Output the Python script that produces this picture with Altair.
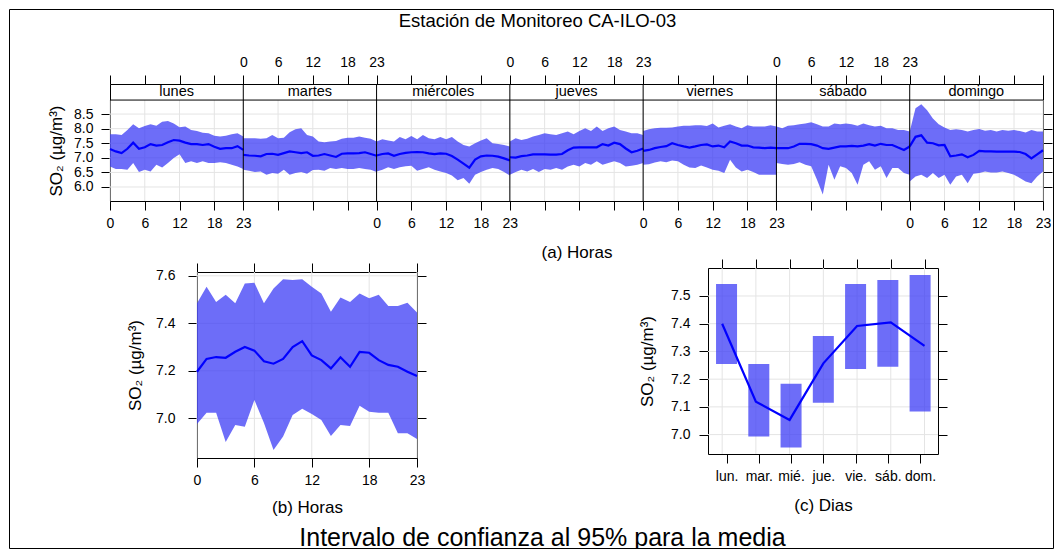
import json
import altair as alt
import pandas as pd

# ---------------- data ----------------
days = ["lunes", "martes", "miércoles", "jueves", "viernes", "sábado", "domingo"]

mean_lunes = [7.30, 7.22, 7.16, 7.31, 7.52, 7.31, 7.36, 7.47, 7.42, 7.44, 7.53, 7.61, 7.59, 7.52, 7.47, 7.47, 7.44, 7.47, 7.38, 7.31, 7.33, 7.33, 7.40, 7.27]
lower_lunes = [6.70, 6.62, 6.62, 6.59, 6.82, 6.51, 6.59, 6.53, 6.76, 6.67, 6.82, 6.99, 7.12, 6.82, 6.88, 6.82, 6.88, 6.82, 6.82, 6.85, 6.82, 6.76, 6.70, 6.62]
upper_lunes = [7.81, 7.81, 7.78, 7.95, 8.15, 8.01, 8.09, 8.15, 8.10, 8.24, 8.26, 8.18, 8.05, 8.07, 7.95, 7.92, 7.86, 7.84, 7.76, 7.73, 7.76, 7.81, 7.84, 7.73]

mean_martes = [7.10, 7.08, 7.07, 7.05, 7.13, 7.14, 7.10, 7.16, 7.22, 7.19, 7.16, 7.19, 7.07, 7.08, 7.13, 7.08, 7.03, 7.14, 7.15, 7.15, 7.16, 7.19, 7.13, 7.07]
lower_martes = [6.59, 6.56, 6.51, 6.53, 6.42, 6.48, 6.45, 6.59, 6.42, 6.48, 6.51, 6.45, 6.58, 6.59, 6.56, 6.65, 6.62, 6.65, 6.62, 6.62, 6.65, 6.62, 6.59, 6.51]
upper_martes = [7.67, 7.67, 7.67, 7.65, 7.67, 7.78, 7.67, 7.69, 7.88, 7.98, 8.01, 7.78, 7.73, 7.56, 7.53, 7.56, 7.58, 7.65, 7.69, 7.69, 7.73, 7.69, 7.65, 7.56]

mean_miercoles = [7.08, 7.13, 7.15, 7.07, 7.13, 7.17, 7.19, 7.20, 7.19, 7.15, 7.13, 7.15, 7.14, 7.06, 6.94, 6.80, 6.66, 6.94, 7.05, 7.08, 7.07, 7.04, 6.98, 6.91]
lower_miercoles = [6.53, 6.59, 6.68, 6.62, 6.68, 6.71, 6.73, 6.56, 6.62, 6.68, 6.59, 6.53, 6.48, 6.39, 6.23, 6.31, 6.11, 6.42, 6.51, 6.59, 6.65, 6.62, 6.51, 6.39]
upper_miercoles = [7.56, 7.64, 7.59, 7.56, 7.71, 7.64, 7.75, 7.64, 7.78, 7.67, 7.64, 7.71, 7.64, 7.71, 7.56, 7.44, 7.39, 7.50, 7.59, 7.67, 7.50, 7.47, 7.44, 7.39]

mean_jueves = [7.02, 7.01, 7.06, 7.08, 7.12, 7.12, 7.12, 7.11, 7.11, 7.13, 7.26, 7.35, 7.36, 7.36, 7.36, 7.36, 7.47, 7.42, 7.52, 7.47, 7.32, 7.19, 7.24, 7.32]
lower_jueves = [6.42, 6.51, 6.59, 6.53, 6.62, 6.51, 6.62, 6.59, 6.65, 6.59, 6.70, 6.76, 6.70, 6.82, 6.76, 6.88, 6.76, 6.82, 6.88, 6.82, 6.70, 6.73, 6.76, 6.82]
upper_jueves = [7.56, 7.67, 7.61, 7.65, 7.73, 7.78, 7.84, 7.81, 7.78, 7.84, 7.90, 7.81, 7.92, 8.01, 7.92, 8.07, 7.92, 8.01, 8.07, 7.95, 7.90, 7.84, 7.84, 7.78]

mean_viernes = [7.24, 7.27, 7.33, 7.37, 7.40, 7.50, 7.44, 7.39, 7.35, 7.39, 7.44, 7.46, 7.39, 7.42, 7.36, 7.56, 7.50, 7.42, 7.42, 7.36, 7.35, 7.33, 7.35, 7.33]
lower_viernes = [6.76, 6.78, 6.84, 6.88, 6.85, 6.91, 6.88, 6.76, 6.67, 6.65, 6.74, 6.67, 6.59, 6.56, 6.48, 6.93, 6.67, 6.53, 6.59, 6.51, 6.42, 6.42, 6.42, 6.42]
upper_viernes = [7.92, 7.98, 8.01, 8.03, 8.03, 8.04, 8.07, 8.10, 8.10, 8.12, 8.12, 8.09, 8.18, 8.04, 8.10, 8.15, 8.07, 8.01, 8.12, 8.07, 8.07, 8.07, 8.12, 8.07]

mean_sabado = [7.33, 7.33, 7.33, 7.39, 7.48, 7.48, 7.47, 7.42, 7.33, 7.31, 7.35, 7.39, 7.39, 7.41, 7.39, 7.42, 7.47, 7.42, 7.48, 7.44, 7.44, 7.35, 7.27, 7.39]
lower_sabado = [6.82, 6.79, 6.76, 6.79, 6.85, 6.76, 6.71, 6.25, 5.74, 6.76, 6.25, 6.71, 6.65, 6.48, 6.08, 6.76, 6.88, 6.59, 6.71, 6.31, 6.65, 6.65, 6.48, 6.42]
upper_sabado = [8.07, 8.01, 8.10, 8.12, 8.15, 8.18, 8.22, 8.15, 8.07, 8.07, 8.18, 8.15, 8.18, 8.15, 8.10, 8.18, 8.12, 8.07, 8.10, 8.01, 8.01, 7.95, 7.95, 7.90]

mean_domingo = [7.39, 7.72, 7.77, 7.52, 7.50, 7.43, 7.44, 7.05, 7.08, 7.12, 7.02, 7.10, 7.24, 7.22, 7.22, 7.21, 7.21, 7.21, 7.21, 7.20, 7.13, 6.98, 7.12, 7.26]
lower_domingo = [6.19, 6.36, 6.42, 6.31, 6.48, 6.31, 6.42, 6.08, 6.36, 6.42, 6.13, 6.45, 6.48, 6.53, 6.50, 6.50, 6.53, 6.48, 6.42, 6.31, 6.19, 6.13, 6.36, 6.53]
upper_domingo = [7.90, 8.70, 8.84, 8.63, 8.35, 8.15, 8.04, 7.95, 7.98, 7.95, 7.90, 7.95, 7.99, 7.93, 7.95, 7.90, 7.95, 7.93, 7.95, 7.92, 7.87, 7.95, 7.90, 7.90]

hour_mean = [7.196, 7.250, 7.258, 7.255, 7.280, 7.300, 7.285, 7.240, 7.230, 7.250, 7.300, 7.325, 7.265, 7.245, 7.210, 7.257, 7.217, 7.280, 7.276, 7.245, 7.225, 7.217, 7.196, 7.178]
hour_lower = [6.976, 7.024, 7.024, 6.900, 6.972, 6.965, 7.077, 6.980, 6.867, 6.923, 7.014, 7.040, 7.018, 6.993, 6.926, 6.972, 6.968, 7.053, 7.028, 7.024, 7.024, 6.937, 6.937, 6.913]
hour_upper = [7.484, 7.554, 7.490, 7.520, 7.484, 7.568, 7.571, 7.484, 7.547, 7.585, 7.582, 7.585, 7.554, 7.526, 7.449, 7.509, 7.490, 7.526, 7.505, 7.520, 7.473, 7.473, 7.487, 7.445]

day_short = ["lun.", "mar.", "mié.", "jue.", "vie.", "sáb.", "dom."]
day_mean = [7.400, 7.119, 7.053, 7.257, 7.392, 7.405, 7.320]
day_lower = [7.255, 6.993, 6.953, 7.115, 7.237, 7.245, 7.083]
day_upper = [7.543, 7.255, 7.183, 7.356, 7.543, 7.558, 7.576]

week_y_ticks = [6.0, 6.5, 7.0, 7.5, 8.0, 8.5]
hour_ticks = [0, 6, 12, 18, 23]
hour_y_ticks = [7.0, 7.2, 7.4, 7.6]
day_y_ticks = [7.0, 7.1, 7.2, 7.3, 7.4, 7.5]

title_text = "Estación de Monitoreo CA-ILO-03"
caption_text = "Intervalo de confianza al 95% para la media"
ylab = "SO₂ (µg/m³)"

# ---------------- style / layout ----------------
FONT = "Liberation Sans"
BAND = "#3a3af6"
BAND_OPACITY = 0.74
LINE_COLOR = "#0000ff"
GRID_COLOR = "#e4e4e4"
ORIGIN = 9                      # page pixel of the view origin (8 margin + 1 padding)
W, H = 1044, 539                # view size
def P(v):                       # page pixel -> view pixel
    return v - ORIGIN

# panel areas (page pixels)
A_XR, A_YR = [P(110), P(1043)], [P(201), P(84)]
B_XR, B_YR = [P(197), P(417)], [P(458), P(272)]
C_XR, C_YR = [P(708), P(938)], [P(454), P(268)]
A_XDOM, A_YDOM = [0, 161], [5.52, 9.53]
A_PANEL_TOP = 8.98
B_XDOM, B_YDOM = [0, 23], [6.833, 7.616]
C_XDOM, C_YDOM = [0.58, 7.4], [6.930, 7.601]

def sc(dom, rng):
    return alt.Scale(domain=dom, range=rng, nice=False, zero=False)

def axis(orient, offset, **kw):
    return alt.Axis(orient=orient, offset=offset, grid=False, labelFlush=False,
                    labelOverlap=False, **kw)

# ---------------- tables ----------------
means = [mean_lunes, mean_martes, mean_miercoles, mean_jueves, mean_viernes, mean_sabado, mean_domingo]
lowers = [lower_lunes, lower_martes, lower_miercoles, lower_jueves, lower_viernes, lower_sabado, lower_domingo]
uppers = [upper_lunes, upper_martes, upper_miercoles, upper_jueves, upper_viernes, upper_sabado, upper_domingo]
rows = []
for d, name in enumerate(days):
    for h in range(24):
        rows.append({"day": name, "pos": d * 23 + h, "mean": means[d][h],
                     "lo": lowers[d][h], "hi": uppers[d][h]})
week_df = pd.DataFrame(rows)

week_tick_pos = sorted({d * 23 + h for d in range(7) for h in hour_ticks})
bottom_expr = ("datum.value % 23 == 0 ? (((datum.value / 23) % 2 == 0) ? '0' : '23') : "
               "((floor(datum.value / 23) % 2 == 0) ? toString(datum.value % 23) : '')")
top_expr = ("datum.value % 23 == 0 ? ((datum.value == 0 || datum.value == 161) ? '' : "
            "(((datum.value / 23) % 2 == 1) ? '0' : '23')) : "
            "((floor(datum.value / 23) % 2 == 1) ? toString(datum.value % 23) : '')")

hour_df = pd.DataFrame({"hour": list(range(24)), "mean": hour_mean, "lo": hour_lower, "hi": hour_upper})
day_df = pd.DataFrame({"idx": list(range(1, 8)), "lab": day_short, "mean": day_mean,
                       "lo": day_lower, "hi": day_upper})

layers = []

# ---------- (a) weekly panel ----------
def ax_a(field, a=None):
    return alt.X(field, type="quantitative", scale=sc(A_XDOM, A_XR), axis=a)
def ay_a(field, a=None):
    return alt.Y(field, type="quantitative", scale=sc(A_YDOM, A_YR), axis=a)

gA_h = pd.DataFrame({"y": week_y_ticks, "x0": A_XDOM[0], "x1": A_XDOM[1]})
layers.append(alt.Chart(gA_h).mark_rule(color=GRID_COLOR, strokeWidth=1).encode(
    x=ax_a("x0"), x2="x1", y=ay_a("y")))
gA_v = pd.DataFrame({"x": week_tick_pos, "y0": A_YDOM[0], "y1": A_PANEL_TOP})
layers.append(alt.Chart(gA_v).mark_rule(color=GRID_COLOR, strokeWidth=1).encode(
    x=ax_a("x"), y=ay_a("y0"), y2="y1"))

layers.append(alt.Chart(week_df).mark_area(fill=BAND, fillOpacity=BAND_OPACITY, strokeWidth=0).encode(
    x=ax_a("pos", axis("bottom", P(201) - H, values=week_tick_pos, labelExpr=bottom_expr,
                       title="(a) Horas", titlePadding=14)),
    y=ay_a("lo", axis("left", -P(110), values=week_y_ticks, format=".1f", title=ylab,
                      labelPadding=8, titlePadding=8, titleY=P(150.5))),
    y2="hi", detail="day:N"))
layers.append(alt.Chart(week_df).mark_line(color=LINE_COLOR, strokeWidth=2.2).encode(
    x=ax_a("pos", axis("top", -P(84), values=week_tick_pos, labelExpr=top_expr, title=None)),
    y=ay_a("mean", axis("right", P(1043) - W, values=week_y_ticks, labels=False, title=None)),
    detail="day:N"))

sep = pd.DataFrame({"x": [23 * k for k in range(1, 7)], "y0": A_YDOM[0], "y1": A_YDOM[1]})
layers.append(alt.Chart(sep).mark_rule(color="black", strokeWidth=1).encode(
    x=ax_a("x"), y=ay_a("y0"), y2="y1"))
strip_line = pd.DataFrame({"y": [A_PANEL_TOP], "x0": [A_XDOM[0]], "x1": [A_XDOM[1]]})
layers.append(alt.Chart(strip_line).mark_rule(color="black", strokeWidth=1).encode(
    x=ax_a("x0"), x2="x1", y=ay_a("y")))
strip_txt = pd.DataFrame({"day": days, "x": [d * 23 + 11.5 for d in range(7)],
                          "y": (A_PANEL_TOP + A_YDOM[1]) / 2})
layers.append(alt.Chart(strip_txt).mark_text(font=FONT, fontSize=14.5, color="black", baseline="middle").encode(
    x=ax_a("x"), y=ay_a("y"), text="day:N"))

# ---------- (b) hourly panel ----------
def ax_b(field, a=None):
    return alt.X(field, type="quantitative", scale=sc(B_XDOM, B_XR), axis=a)
def ay_b(field, a=None):
    return alt.Y(field, type="quantitative", scale=sc(B_YDOM, B_YR), axis=a)

gB_h = pd.DataFrame({"y": hour_y_ticks, "x0": B_XDOM[0], "x1": B_XDOM[1]})
layers.append(alt.Chart(gB_h).mark_rule(color=GRID_COLOR, strokeWidth=1).encode(
    x=ax_b("x0"), x2="x1", y=ay_b("y")))
gB_v = pd.DataFrame({"x": hour_ticks, "y0": B_YDOM[0], "y1": B_YDOM[1]})
layers.append(alt.Chart(gB_v).mark_rule(color=GRID_COLOR, strokeWidth=1).encode(
    x=ax_b("x"), y=ay_b("y0"), y2="y1"))
layers.append(alt.Chart(hour_df).mark_area(fill=BAND, fillOpacity=BAND_OPACITY, strokeWidth=0).encode(
    x=ax_b("hour", axis("bottom", P(458) - H, values=hour_ticks, title="(b) Horas", titlePadding=12)),
    y=ay_b("lo", axis("left", -P(197), values=hour_y_ticks, format=".1f", title=ylab,
                      labelPadding=13, titlePadding=11)),
    y2="hi"))
layers.append(alt.Chart(hour_df).mark_line(color=LINE_COLOR, strokeWidth=2.2).encode(
    x=ax_b("hour", axis("top", -P(272), values=hour_ticks, labels=False, title=None)),
    y=ay_b("mean", axis("right", P(417) - W, values=hour_y_ticks, labels=False, title=None))))

# ---------- (c) day-of-week panel ----------
def ax_c(field, a=None):
    return alt.X(field, type="quantitative", scale=sc(C_XDOM, C_XR), axis=a)
def ay_c(field, a=None):
    return alt.Y(field, type="quantitative", scale=sc(C_YDOM, C_YR), axis=a)

day_expr = json.dumps(day_short) + "[datum.value - 1]"
gC_h = pd.DataFrame({"y": day_y_ticks, "x0": C_XDOM[0], "x1": C_XDOM[1]})
layers.append(alt.Chart(gC_h).mark_rule(color=GRID_COLOR, strokeWidth=1).encode(
    x=ax_c("x0"), x2="x1", y=ay_c("y")))
gC_v = pd.DataFrame({"x": list(range(1, 8)), "y0": C_YDOM[0], "y1": C_YDOM[1]})
layers.append(alt.Chart(gC_v).mark_rule(color=GRID_COLOR, strokeWidth=1).encode(
    x=ax_c("x"), y=ay_c("y0"), y2="y1"))
layers.append(alt.Chart(day_df).mark_bar(fill=BAND, fillOpacity=BAND_OPACITY, size=21).encode(
    x=ax_c("idx", axis("bottom", P(454) - H, values=list(range(1, 8)), labelExpr=day_expr,
                       title="(c) Dias", titlePadding=14)),
    y=ay_c("lo", axis("left", -P(708), values=day_y_ticks, format=".1f", title=ylab,
                      labelPadding=9, titlePadding=14)),
    y2="hi"))
layers.append(alt.Chart(day_df).mark_line(color=LINE_COLOR, strokeWidth=2.2).encode(
    x=ax_c("idx", axis("top", -P(268), values=list(range(1, 8)), labels=False, title=None)),
    y=ay_c("mean", axis("right", P(938) - W, values=day_y_ticks, labels=False, title=None))))

# ---------- overall title and caption ----------
dummy = pd.DataFrame({"v": [0.5]})
layers.append(alt.Chart(dummy).mark_point(opacity=0).encode(
    x=alt.X("v:Q", scale=sc([0, 1], [0, W]),
            axis=alt.Axis(orient="top", offset=0, domain=False, ticks=False, labels=False,
                          title=title_text, titleX=P(537), titleY=P(20), titleBaseline="middle",
                          titleAlign="center", titleFontSize=18.5))))
layers.append(alt.Chart(dummy).mark_point(opacity=0).encode(
    x=alt.X("v:Q", scale=sc([0, 1], [0, W]),
            axis=alt.Axis(orient="bottom", offset=0, domain=False, ticks=False, labels=False,
                          title=caption_text, titleX=P(542), titleY=537 - (ORIGIN + H),
                          titleBaseline="middle", titleAlign="center", titleFontSize=25))))

chart = alt.layer(*layers).resolve_scale(
    x="independent", y="independent"
).resolve_axis(
    x="independent", y="independent"
).properties(
    width=W, height=H, padding=1, autosize=alt.AutoSizeParams(type="none")
).configure_view(
    stroke="black", strokeWidth=1
).configure_axis(
    domainColor="black", tickColor="black", labelColor="black", titleColor="black",
    labelFont=FONT, titleFont=FONT, labelFontSize=14, titleFontSize=17,
    titleFontWeight="normal", tickSize=9, labelPadding=6, domainWidth=1, tickWidth=1
).configure_text(font=FONT)

chart.save("out.html", embed_options={"renderer": "svg", "actions": False})
